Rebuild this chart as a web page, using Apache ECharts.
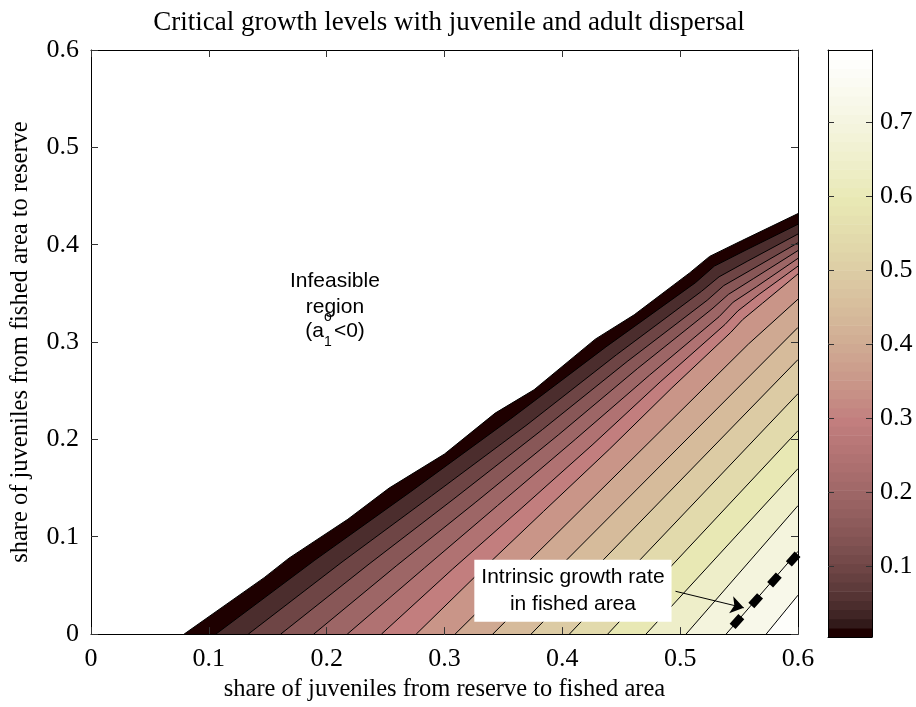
<!DOCTYPE html>
<html>
<head>
<meta charset="utf-8">
<title>Critical growth levels</title>
<script src="https://cdn.jsdelivr.net/npm/echarts@6/dist/echarts.min.js"></script>
<style>
html, body { margin: 0; padding: 0; background: #fff; }
#main { width: 916px; height: 707px; }
</style>
</head>
<body>
<div id="main"></div>
<script>
// contour levels, lowest (feasibility boundary) first
var levels = [0, 0.049, 0.098, 0.147, 0.196, 0.245, 0.294, 0.343, 0.392,
              0.441, 0.49, 0.539, 0.588, 0.637, 0.686, 0.735, 0.784];
// colour limits of the colorbar
var colorMin = 0.004;
var colorMax = 0.797;
var colorbarTicks = [0.1, 0.2, 0.3, 0.4, 0.5, 0.6, 0.7];

// contour lines: [x, y] points, one list per level
var contourLines = [
    [[0.079, 0], [0.147, 0.058], [0.168, 0.078], [0.218, 0.118], [0.253, 0.150], [0.300, 0.185], [0.343, 0.227],
     [0.376, 0.251], [0.428, 0.303], [0.461, 0.328], [0.508, 0.371], [0.525, 0.388], [0.552, 0.404], [0.6, 0.432]],
    [[0.106, 0], [0.190, 0.076], [0.271, 0.146], [0.356, 0.221], [0.437, 0.295], [0.513, 0.361], [0.529, 0.378], [0.555, 0.394], [0.6, 0.421]],
    [[0.1335, 0], [0.213, 0.074], [0.289, 0.142], [0.370, 0.215], [0.446, 0.287], [0.518, 0.352], [0.533, 0.367], [0.557, 0.383], [0.6, 0.411]],
    [[0.161, 0], [0.236, 0.072], [0.308, 0.139], [0.383, 0.210], [0.455, 0.280], [0.523, 0.343], [0.537, 0.358], [0.560, 0.374], [0.6, 0.402]],
    [[0.189, 0], [0.259, 0.070], [0.326, 0.135], [0.397, 0.205], [0.464, 0.273], [0.527, 0.334], [0.541, 0.349], [0.562, 0.365], [0.6, 0.394]],
    [[0.2175, 0], [0.283, 0.068], [0.345, 0.132], [0.411, 0.200], [0.474, 0.266], [0.533, 0.326], [0.545, 0.341], [0.565, 0.357], [0.6, 0.386]],
    [[0.2465, 0], [0.307, 0.067], [0.365, 0.129], [0.426, 0.195], [0.483, 0.259], [0.538, 0.318], [0.549, 0.332], [0.567, 0.349], [0.6, 0.378]],
    [[0.276, 0], [0.331, 0.065], [0.384, 0.126], [0.440, 0.190], [0.493, 0.253], [0.543, 0.310], [0.553, 0.323], [0.570, 0.340], [0.6, 0.370]],
    [[0.309, 0], [0.558, 0.298], [0.6, 0.344]],
    [[0.341, 0], [0.6, 0.315]],
    [[0.3735, 0], [0.6, 0.282]],
    [[0.406, 0], [0.6, 0.247]],
    [[0.4385, 0], [0.6, 0.209]],
    [[0.471, 0], [0.6, 0.170]],
    [[0.505, 0], [0.6, 0.132]],
    [[0.539, 0], [0.6, 0.085]],
    [[0.573, 0], [0.6, 0.040]]
];

// intrinsic growth rate in fished area (thick dashed line) and annotation
var growthLine = [[0.5445, 0.008], [0.6, 0.0825]];
var arrowLine = [[0.496, 0.044], [0.554, 0.027]];
var boxAnchor = [0.409, 0.0445];
var infeasibleAnchor = [0.207, 0.3357];

var serif = 'Liberation Serif';
var sans = 'Liberation Sans';

// MATLAB pink(64)
function pink(i) {
    var g = i / 63;
    var hr = Math.min(1, (i + 1) / 24);
    var hg = i < 24 ? 0 : Math.min(1, (i - 23) / 24);
    var hb = i < 48 ? 0 : (i - 47) / 16;
    var c = [hr, hg, hb].map(function (h) {
        return Math.round(255 * Math.sqrt((2 * g + h) / 3));
    });
    return 'rgb(' + c.join(',') + ')';
}
function colorIndex(v) {
    var i = Math.floor((v - colorMin) / (colorMax - colorMin) * 64);
    return Math.max(0, Math.min(63, i));
}

var myChart = echarts.init(document.getElementById('main'));

function frameAxis(grid, pos, min, max, extra) {
    var a = {
        gridIndex: grid, type: 'value', position: pos, min: min, max: max, z: 10,
        axisLine: { show: true, onZero: false, lineStyle: { color: '#000', width: 1 } },
        axisTick: { show: false },
        axisLabel: { show: false },
        splitLine: { show: false }
    };
    return Object.assign(a, extra || {});
}
var tickStyle = { show: true, inside: true, length: 7, lineStyle: { color: '#333' } };
var labelStyle = { fontFamily: serif, fontSize: 26, color: '#000' };
var nameStyle = { fontFamily: serif, fontSize: 24.5, color: '#000' };

var option = {
    animation: false,
    backgroundColor: '#fff',
    title: {
        text: 'Critical growth levels with juvenile and adult dispersal',
        left: 444, top: 4, textAlign: 'center',
        textStyle: { fontFamily: serif, fontSize: 27, fontWeight: 'normal', color: '#000' }
    },
    grid: [
        { left: 88, top: 50, width: 710, height: 586 },
        { left: 828, top: 50, width: 44, height: 587 }
    ],
    xAxis: [
        frameAxis(0, 'bottom', 0, 0.6, {
            interval: 0.1, axisTick: tickStyle,
            axisLabel: Object.assign({ margin: 12 }, labelStyle),
            name: 'share of juveniles from reserve to fished area',
            nameLocation: 'middle', nameGap: 41,
            nameTextStyle: nameStyle
        }),
        frameAxis(0, 'top', 0, 0.6, { interval: 0.1, axisTick: tickStyle }),
        frameAxis(1, 'bottom', 0, 1),
        frameAxis(1, 'top', 0, 1)
    ],
    yAxis: [
        frameAxis(0, 'left', 0, 0.6, {
            interval: 0.1, axisTick: tickStyle,
            axisLabel: Object.assign({ margin: 12 }, labelStyle),
            name: 'share of juveniles from fished area to reserve',
            nameLocation: 'middle', nameGap: 58,
            nameTextStyle: nameStyle
        }),
        frameAxis(0, 'right', 0, 0.6, { interval: 0.1, axisTick: tickStyle }),
        frameAxis(1, 'left', colorMin, colorMax, {
            axisTick: Object.assign({ customValues: colorbarTicks }, tickStyle, { length: 6 }),
            axisLabel: { show: false, customValues: colorbarTicks }
        }),
        frameAxis(1, 'right', colorMin, colorMax, {
            axisTick: Object.assign({ customValues: colorbarTicks }, tickStyle, { length: 6 }),
            axisLabel: Object.assign({ margin: 8, customValues: colorbarTicks }, labelStyle)
        })
    ],
    series: [
        {
            // filled contour bands, painted from the lowest level up
            type: 'custom',
            xAxisIndex: 0, yAxisIndex: 0,
            clip: true, silent: true,
            data: levels.map(function (v, k) { return [k, v]; }),
            renderItem: function (params, api) {
                var k = params.dataIndex;
                var pts = contourLines[k].map(function (p) { return api.coord(p); });
                pts.push(api.coord([0.6, 0]));
                return {
                    type: 'polygon',
                    shape: { points: pts },
                    style: { fill: pink(colorIndex(levels[k])), stroke: null }
                };
            }
        },
        {
            // contour lines
            type: 'custom',
            xAxisIndex: 0, yAxisIndex: 0,
            clip: true, silent: true, z: 3,
            data: levels.map(function (v, k) { return [k, v]; }),
            renderItem: function (params, api) {
                var pts = contourLines[params.dataIndex].map(function (p) { return api.coord(p); });
                return {
                    type: 'polyline',
                    shape: { points: pts },
                    style: { stroke: '#000', lineWidth: 1, fill: null }
                };
            }
        },
        {
            type: 'line',
            xAxisIndex: 0, yAxisIndex: 0,
            data: growthLine,
            showSymbol: false, silent: true, z: 4,
            lineStyle: { color: '#000', width: 8, type: [13, 15], cap: 'butt' }
        },
        {
            type: 'lines',
            coordinateSystem: 'cartesian2d',
            xAxisIndex: 0, yAxisIndex: 0,
            silent: true, z: 5,
            symbol: ['none', 'arrow'], symbolSize: 13,
            lineStyle: { color: '#000', width: 1, opacity: 1, curveness: 0 },
            data: [{ coords: arrowLine }]
        },
        {
            // text annotations
            type: 'custom',
            xAxisIndex: 0, yAxisIndex: 0,
            silent: true, z: 6,
            data: [infeasibleAnchor.concat(boxAnchor)],
            renderItem: function (params, api) {
                var a = api.coord([api.value(0), api.value(1)]);
                var b = api.coord([api.value(2), api.value(3)]);
                function txt(s, x, y, size, align) {
                    return {
                        type: 'text', x: x, y: y,
                        style: {
                            text: s, fill: '#000', fontFamily: sans, fontSize: size,
                            align: align || 'center', verticalAlign: 'middle'
                        }
                    };
                }
                return {
                    type: 'group',
                    children: [
                        txt('Infeasible', a[0], a[1] - 26, 21),
                        txt('region', a[0], a[1], 21),
                        txt('(a', a[0] - 11, a[1] + 24, 21, 'right'),
                        txt('<0)', a[0] - 1, a[1] + 24, 21, 'left'),
                        txt('o', a[0] - 7, a[1] + 10, 14),
                        txt('1', a[0] - 7, a[1] + 35, 14),
                        {
                            type: 'text', x: b[0], y: b[1],
                            style: {
                                text: 'Intrinsic growth rate\nin fished area',
                                fill: '#000', fontFamily: sans, fontSize: 21, lineHeight: 27,
                                align: 'center', verticalAlign: 'middle',
                                backgroundColor: '#fff', padding: [4, 7]
                            }
                        }
                    ]
                };
            }
        },
        {
            // colorbar, one step per colormap entry
            type: 'custom',
            xAxisIndex: 2, yAxisIndex: 2,
            silent: true,
            data: Array.from({ length: 64 }, function (_, i) { return [i]; }),
            renderItem: function (params, api) {
                var i = params.dataIndex;
                var h = (colorMax - colorMin) / 64;
                var p0 = api.coord([0, colorMin + i * h]);
                var p1 = api.coord([1, colorMin + (i + 1) * h]);
                return {
                    type: 'rect',
                    shape: { x: p0[0], y: p1[1], width: p1[0] - p0[0], height: p0[1] - p1[1] + 0.6 },
                    style: { fill: pink(i) }
                };
            }
        }
    ]
};
myChart.setOption(option);
</script>
</body>
</html>
